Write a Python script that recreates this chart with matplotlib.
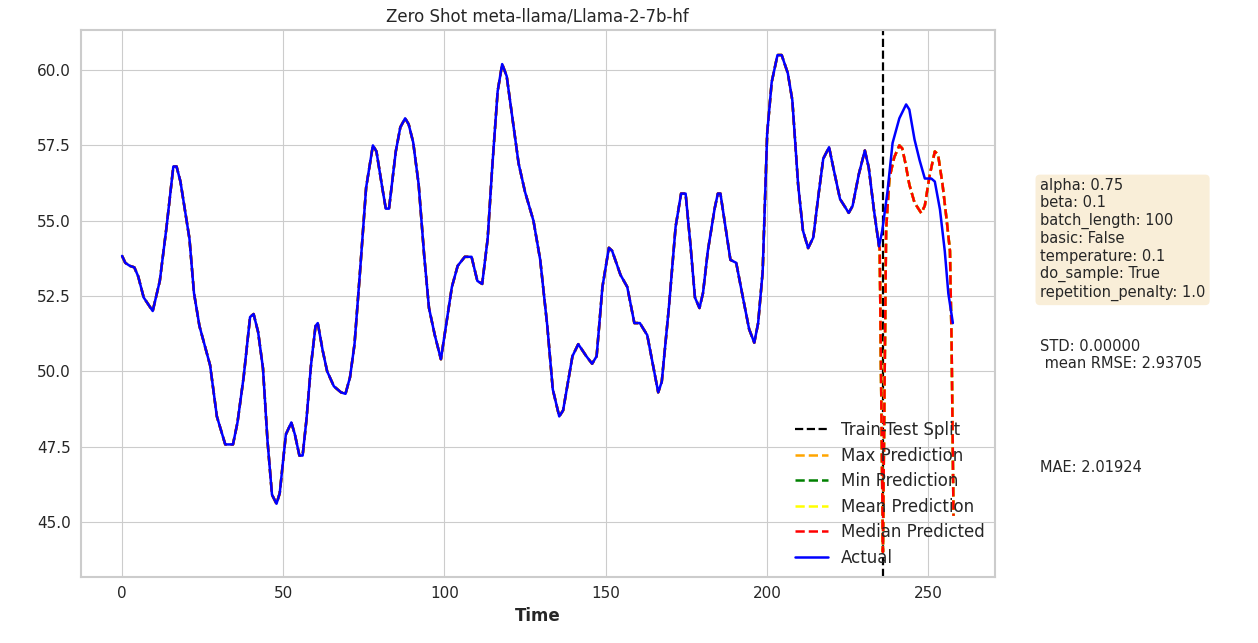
import numpy as np
import matplotlib
matplotlib.use("Agg")
import matplotlib.pyplot as plt
import seaborn as sns

# actual series keypoints (time, value)
actual_t = [0, 1, 2.4, 3.8, 5, 6.7, 9.5, 11.7, 13.8, 15.9, 16.9, 18.1, 20.9, 22.3, 24, 27.3,
            29.4, 32, 34.4, 35.8, 37.7, 39.7, 40.8, 42.2, 43.7, 45.1, 46.5, 47.9, 48.9, 50.8,
            52.5, 53.6, 55, 56, 57.2, 58.6, 60, 60.7, 62.2, 63.6, 65.7, 67.9, 69.3, 70.7, 72.1,
            73.8, 75.7, 77.8, 78.9, 80.7, 81.8, 82.8, 84.9, 86.3, 87.8, 88.9, 90.3, 92, 93.7,
            95.2, 97, 98.9, 100.6, 102.3, 104.1, 106.3, 108.4, 110.2, 111.7, 113.4, 114.8,
            116.5, 117.9, 119.3, 121.2, 123, 125, 127.6, 129.7, 131.9, 133.6, 135.6, 136.8,
            139.7, 141.5, 144, 145.8, 147.2, 149, 151, 152, 154.6, 156.7, 158.9, 160.6, 162.9,
            164.6, 166.3, 167.4, 169.6, 171.7, 173.4, 174.8, 176.3, 177.7, 179.1, 180.2, 181.7,
            183.8, 184.8, 185.6, 187.3, 188.7, 190.5, 192.3, 194.5, 196.1, 197.3, 198.7, 200.1,
            201.5, 203.3, 204.6, 206.5, 207.9, 209.7, 211.2, 212.8, 214.4, 216, 217.5, 219.3,
            220.6, 222.7, 225.4, 226.6, 228.5, 230.4, 231.6, 233.2, 234.8, 235.8, 237.4, 239,
            241.1, 243.2, 244.2, 245.8, 247.4, 249, 251, 252.1, 253.7, 255.2, 256.3, 257.7]
actual_v = [53.83, 53.6, 53.5, 53.45, 53.15, 52.45, 52.0, 53.0, 54.8, 56.8, 56.8, 56.3, 54.4,
            52.6, 51.5, 50.2, 48.5, 47.57, 47.57, 48.3, 49.8, 51.8, 51.9, 51.3, 50.1, 47.7,
            45.9, 45.6, 45.95, 47.9, 48.3, 47.9, 47.2, 47.2, 48.4, 50.2, 51.5, 51.6, 50.7,
            50.0, 49.5, 49.3, 49.25, 49.8, 50.9, 53.3, 56.1, 57.5, 57.3, 56.1, 55.4, 55.4,
            57.3, 58.1, 58.4, 58.2, 57.6, 56.2, 53.85, 52.1, 51.2, 50.4, 51.6, 52.8, 53.5,
            53.8, 53.8, 53.0, 52.9, 54.4, 56.75, 59.3, 60.2, 59.8, 58.3, 56.9, 55.95, 55.0,
            53.7, 51.5, 49.4, 48.5, 48.7, 50.5, 50.9, 50.5, 50.25, 50.5, 52.8, 54.1, 54.0,
            53.2, 52.8, 51.6, 51.6, 51.2, 50.25, 49.3, 49.65, 52.1, 54.8, 55.9, 55.9, 54.2,
            52.45, 52.1, 52.6, 54.0, 55.4, 55.9, 55.9, 54.7, 53.7, 53.6, 52.6, 51.4, 50.95,
            51.6, 53.3, 57.9, 59.6, 60.5, 60.5, 59.9, 59.0, 56.2, 54.67, 54.09, 54.44, 55.84,
            57.06, 57.44, 56.77, 55.72, 55.26, 55.49, 56.53, 57.33, 56.77, 55.37, 54.15,
            54.67, 55.95, 57.58, 58.4, 58.86, 58.69, 57.7, 57.0, 56.4, 56.4, 56.3, 55.37,
            53.98, 52.58, 51.6]

# forecast part after the split (time, value)
fc_t = [235, 236, 237, 238, 239.5, 241.1, 242, 243, 244.2, 245.8, 247.9, 249, 250.5, 252.1,
        253.1, 254.5, 255.8, 256.8, 257.3, 257.9]
fc_v = [54.1, 44.0, 54.7, 56.4, 57.1, 57.5, 57.4, 56.9, 56.2, 55.6, 55.25, 55.5, 56.5, 57.3,
        57.2, 56.2, 55.0, 54.0, 51.0, 45.2]

split_t = 236
params_text = ("alpha: 0.75\nbeta: 0.1\nbatch_length: 100\nbasic: False\n"
               "temperature: 0.1\ndo_sample: True\nrepetition_penalty: 1.0")
std_val, rmse_val, mae_val = 0.0, 2.93705, 2.01924

sns.set_style("whitegrid")

# prediction series = actual before the split, forecast after
at = np.array(actual_t)
pred_t = np.concatenate([at[at < 235], fc_t])
pred_v = np.concatenate([np.array(actual_v)[at < 235], fc_v])

fig = plt.figure(figsize=(12.58, 6.43), dpi=100)
ax = fig.add_axes([0.064, 0.103, 0.727, 0.85])

ax.axvline(split_t, color="black", linestyle="--", lw=1.6, label="Train-Test Split")
ax.plot(pred_t, pred_v, color="orange", linestyle="--", lw=1.8, label="Max Prediction")
ax.plot(pred_t, pred_v, color="green", linestyle="--", lw=1.8, label="Min Prediction")
ax.plot(pred_t, pred_v, color="yellow", linestyle="--", lw=1.8, label="Mean Prediction")
ax.plot(pred_t, pred_v, color="red", linestyle="--", lw=1.8, label="Median Predicted")
ax.plot(actual_t, actual_v, color="blue", lw=1.8, label="Actual")

for s in ax.spines.values():
    s.set_edgecolor("#cccccc")
    s.set_linewidth(1.5)

ax.set_title("Zero Shot meta-llama/Llama-2-7b-hf", fontsize=12)
ax.set_xlabel("Time", fontsize=12, fontweight="bold")
ax.tick_params(labelsize=11)
ax.legend(loc="lower right", fontsize=12, frameon=False, borderaxespad=0.2,
          labelspacing=0.45)

ax.text(1.049, 0.73, params_text, transform=ax.transAxes, fontsize=10.5, va="top",
        bbox=dict(boxstyle="round", facecolor="wheat", alpha=0.5, edgecolor="none"))
ax.text(1.049, 0.435, f"STD: {std_val:.5f}\n mean RMSE: {rmse_val:.5f}",
        transform=ax.transAxes, fontsize=10.5, va="top")
ax.text(1.049, 0.2, f"MAE: {mae_val:.5f}", transform=ax.transAxes, fontsize=10.5,
        va="center")

fig.savefig("out.png", dpi=100)
